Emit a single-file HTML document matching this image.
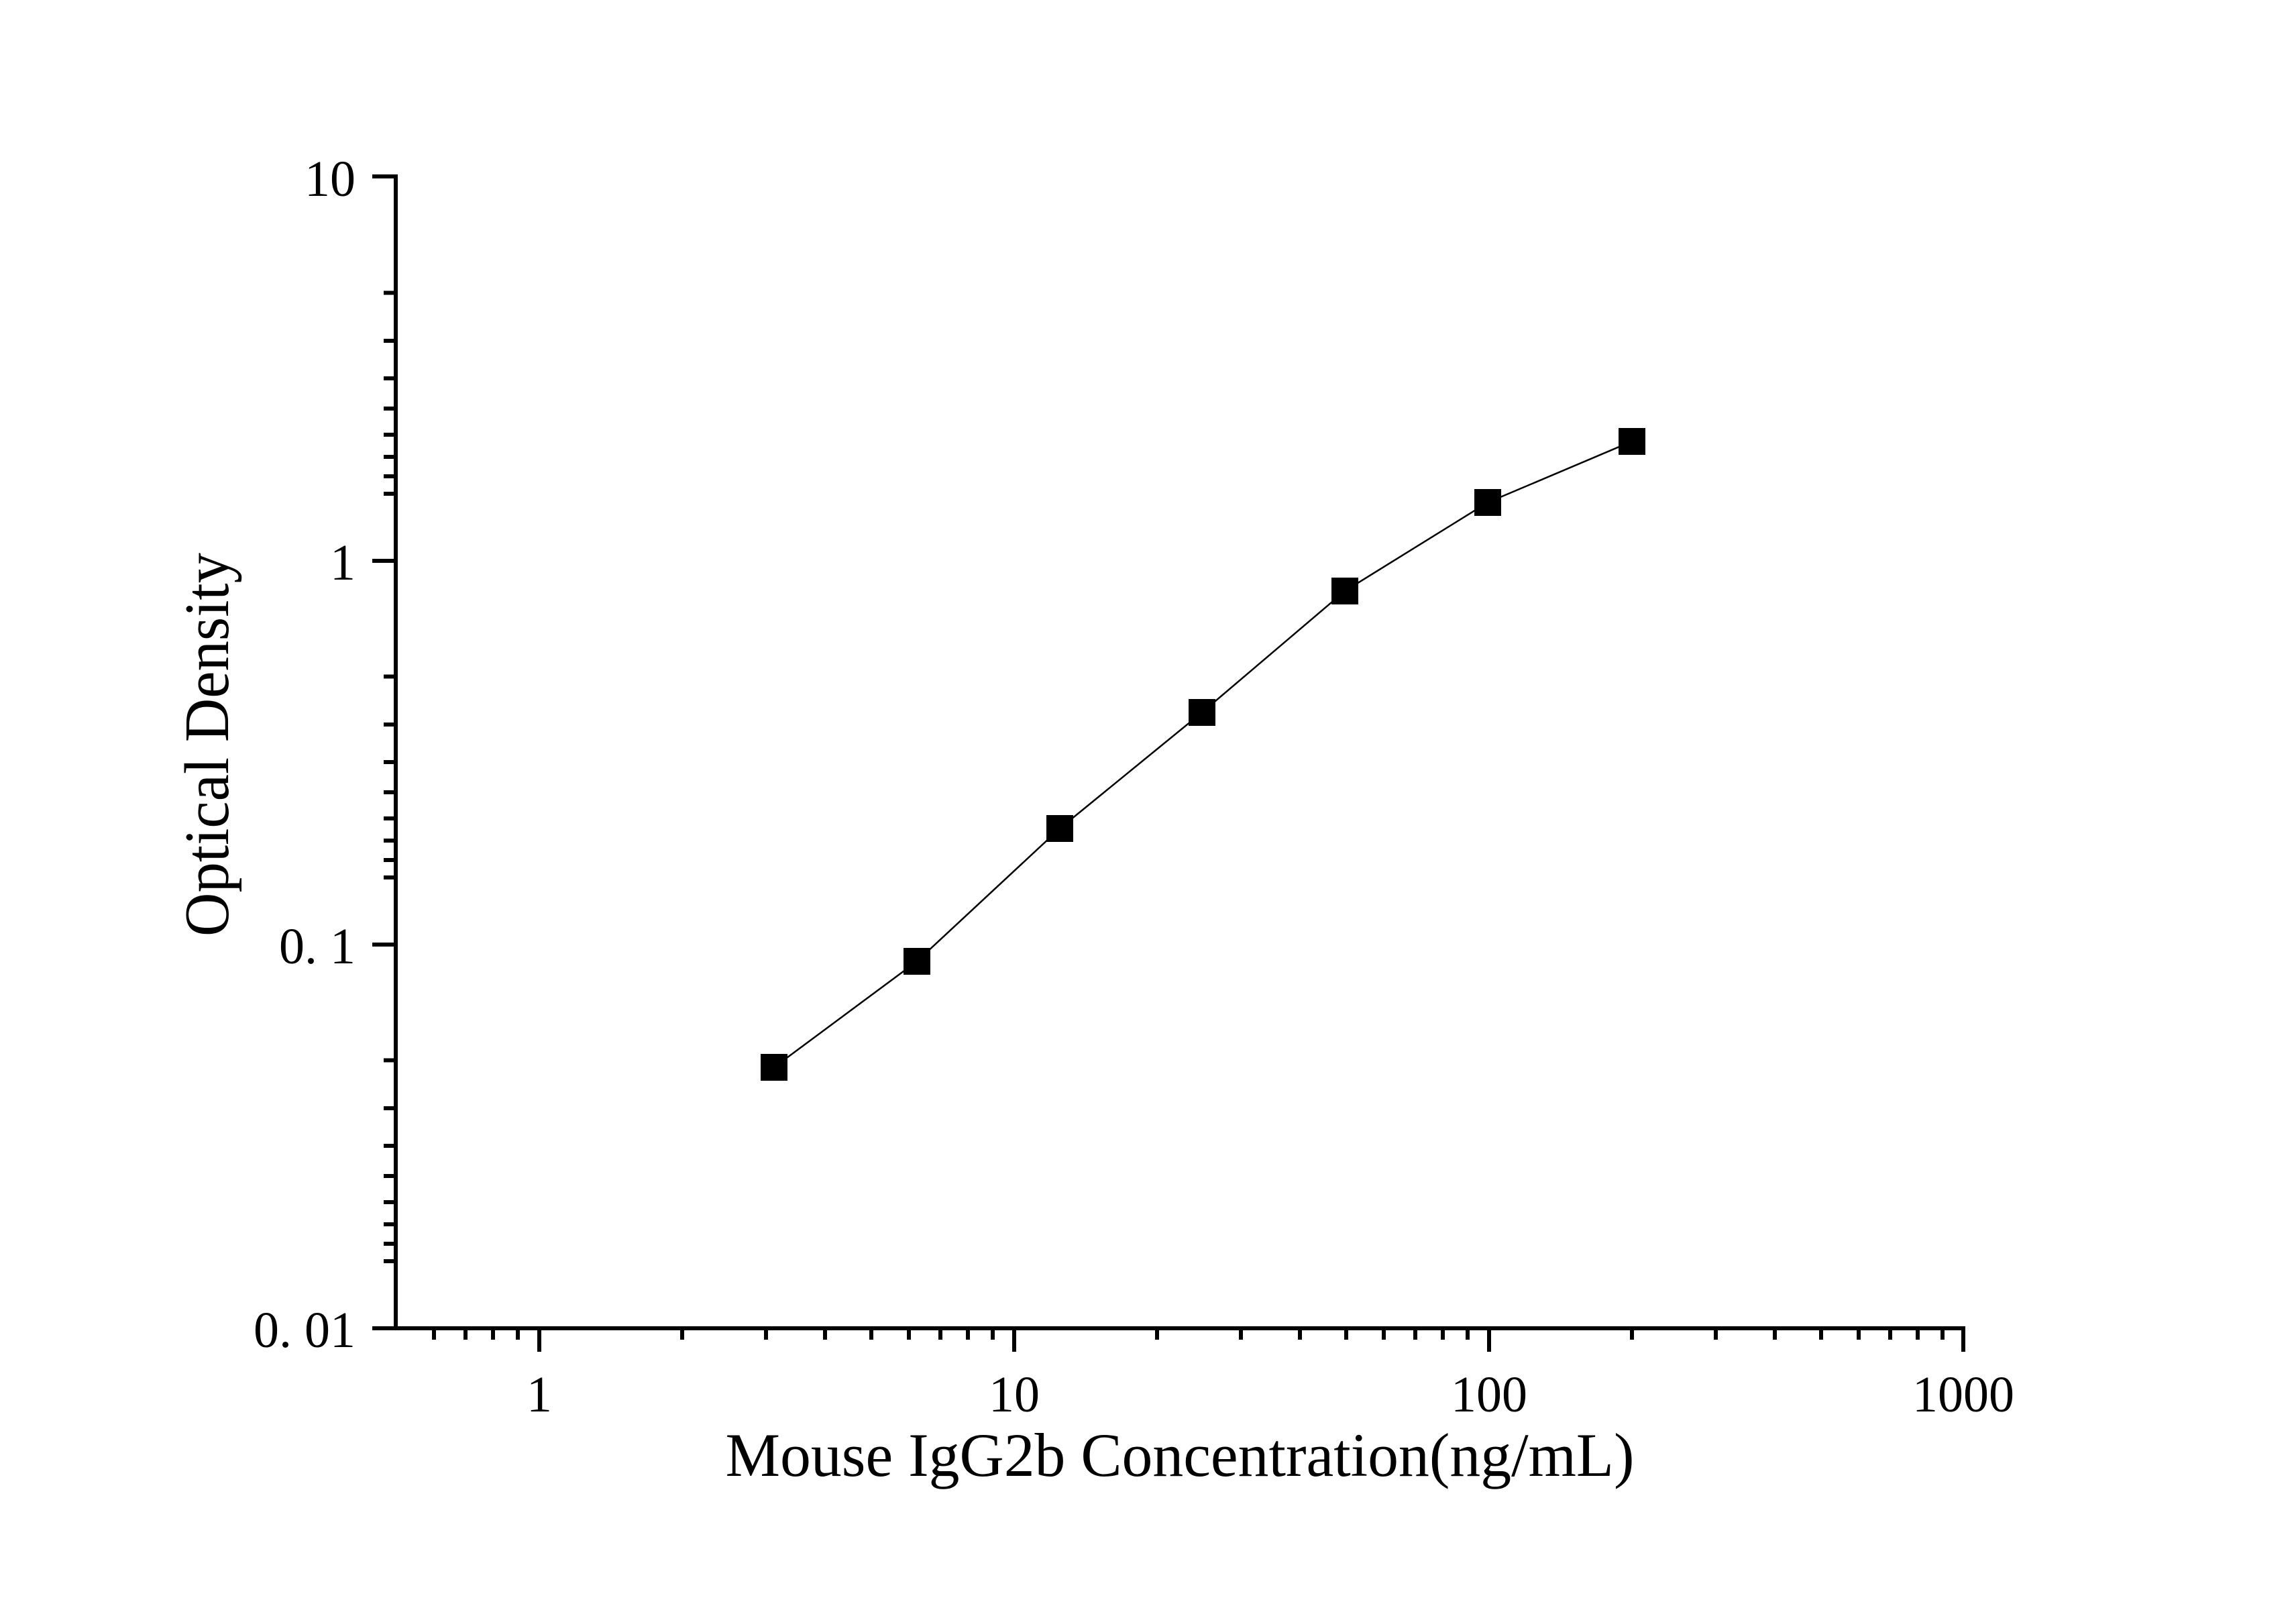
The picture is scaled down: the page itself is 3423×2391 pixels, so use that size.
<!DOCTYPE html>
<html><head><meta charset="utf-8"><style>html,body{margin:0;padding:0;background:#fff}svg{display:block}</style></head>
<body>
<svg width="3423" height="2391" viewBox="0 0 3423 2391" xmlns="http://www.w3.org/2000/svg" font-family="'Liberation Serif', serif" fill="#000">
<rect width="3423" height="2391" fill="#fff"/>
<g stroke="#000" stroke-width="6" fill="none">
<line x1="590" y1="260" x2="590" y2="1983"/>
<line x1="587" y1="1980" x2="2930" y2="1980"/>
<line x1="555" y1="263" x2="590" y2="263"/>
<line x1="555" y1="836" x2="590" y2="836"/>
<line x1="555" y1="1408" x2="590" y2="1408"/>
<line x1="555" y1="1980" x2="590" y2="1980"/>
</g>
<g stroke="#000" stroke-width="6">
<path d="M572 436.5H590M572 508H590M572 564H590M572 609H590M572 648H590M572 681H590M572 710H590M572 736H590"/>
<path d="M572 1008.5H590M572 1080H590M572 1136H590M572 1181H590M572 1220H590M572 1253H590M572 1282H590M572 1308H590"/>
<path d="M572 1580.5H590M572 1652H590M572 1708H590M572 1753H590M572 1792H590M572 1825H590M572 1854H590M572 1880H590"/>
</g>
<g stroke="#000" stroke-width="6">
<path d="M804 1980V2015M1512 1980V2015M2220 1980V2015M2927 1980V2015"/>
<path d="M647 1980V1997M694 1980V1997M735 1980V1997M772 1980V1997"/>
<path d="M1017 1980V1997M1142 1980V1997M1230 1980V1997M1299 1980V1997M1355 1980V1997M1402 1980V1997M1443 1980V1997M1480 1980V1997"/>
<path d="M1725 1980V1997M1850 1980V1997M1938 1980V1997M2007 1980V1997M2063 1980V1997M2110 1980V1997M2151 1980V1997M2188 1980V1997"/>
<path d="M2433 1980V1997M2558 1980V1997M2646 1980V1997M2715 1980V1997M2771 1980V1997M2818 1980V1997M2859 1980V1997M2896 1980V1997"/>
</g>
<g font-size="76" text-anchor="end">
<text x="530" y="292">10</text>
<text x="530" y="864">1</text>
<text x="530" y="1436">0. 1</text>
<text x="530" y="2008">0. 01</text>
</g>
<g font-size="76" text-anchor="middle">
<text x="804" y="2104">1</text>
<text x="1512" y="2104">10</text>
<text x="2220" y="2104">100</text>
<text x="2927" y="2104">1000</text>
</g>
<text x="1759" y="2200" font-size="92" text-anchor="middle" textLength="1355" lengthAdjust="spacingAndGlyphs">Mouse IgG2b Concentration(ng/mL)</text>
<text transform="translate(340,1110) rotate(-90)" font-size="94" text-anchor="middle" textLength="572" lengthAdjust="spacingAndGlyphs">Optical Density</text>
<polyline fill="none" stroke="#000" stroke-width="2.5" points="1154,1591 1367,1433 1580,1235 1792,1062 2005,881 2218,749 2433,658"/>
<g>
<rect x="1134" y="1571" width="40" height="40"/>
<rect x="1347" y="1413" width="40" height="40"/>
<rect x="1560" y="1215" width="40" height="40"/>
<rect x="1772" y="1042" width="40" height="40"/>
<rect x="1985" y="861" width="40" height="40"/>
<rect x="2198" y="729" width="40" height="40"/>
<rect x="2413" y="638" width="40" height="40"/>
</g>
</svg>
</body></html>
